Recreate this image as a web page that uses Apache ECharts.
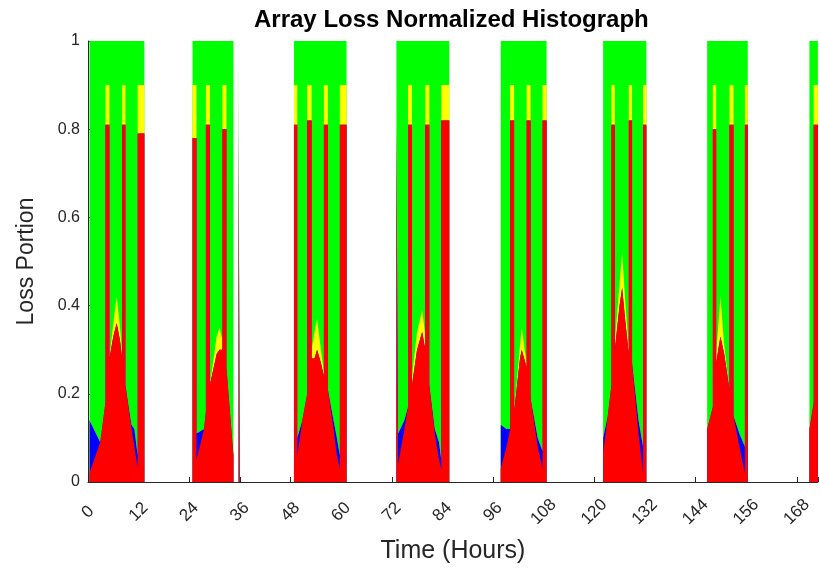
<!DOCTYPE html>
<html>
<head>
<meta charset="utf-8">
<script src="https://cdn.jsdelivr.net/npm/echarts@6/dist/echarts.min.js"></script>
<style>
  html, body { margin: 0; padding: 0; background: #fff; }
  #chart { width: 820px; height: 573px; }
</style>
</head>
<body>
<div id="chart"></div>
<script>
// breakpoints in hours, one line per day; null = night gap
const hours = [
  0.35, 2.9, 4.14, 4.14, 5.08, 5.08, 6.0, 6.8, 7.6, 8.09, 8.09, 8.87, 8.87, 10.3, 11.0, 11.77, 11.77, 13.36, 19,
  24.78, 25.72, 25.72, 27.5, 27.94, 27.94, 28.89, 28.89, 30.5, 31.2, 31.87, 31.87, 32.81, 32.81, 34.47, 35.2, 35.7, 35.95, 42,
  48.82, 49.6, 49.6, 50.8, 51.96, 51.96, 53.0, 53.0, 53.7, 54.3, 55.2, 55.91, 55.91, 56.86, 56.86, 58.2, 59.0, 59.69, 59.69, 61.28, 67,
  73.1, 73.5, 73.5, 75.0, 75.85, 75.85, 76.8, 76.8, 78.0, 79.2, 79.95, 79.95, 80.9, 80.9, 82.2, 83.2, 83.74, 83.74, 85.63, 91,
  97.83, 99.2, 100.05, 100.05, 101.0, 101.0, 102.4, 102.8, 103.97, 103.97, 104.9, 104.9, 106.6, 107.75, 107.75, 108.7, 115,
  122.1, 123.2, 124.07, 124.07, 124.87, 124.87, 126.0, 126.6, 127.4, 128.18, 128.18, 128.96, 128.96, 130.5, 131.56, 131.56, 132.34, 139,
  146.76, 148.1, 148.1, 148.9, 148.9, 149.9, 150.8, 152.05, 152.05, 153.0, 153.0, 154.4, 155.7, 155.7, 156.38, 163,
  171.0, 172.0, 172.0, 173.0
];

const red = [
  .02, .09, .18, .81, .81, .28, .33, .36, .32, .28, .81, .81, .22, .12, .08, .03, .79, .79, null,
  .78, .78, .05, .12, .16, .81, .81, .22, .29, .30, .30, .80, .80, .26, .06, null, .80, .80, null,
  .81, .81, .06, .14, .20, .82, .82, .28, .28, .30, .27, .24, .81, .81, .21, .12, .06, .03, .81, .81, null,
  .81, .81, .04, .12, .17, .81, .81, .22, .30, .34, .30, .81, .81, .22, .11, .05, .03, .82, .82, null,
  .03, .08, .12, .82, .82, .16, .28, .30, .26, .82, .82, .19, .08, .03, .82, .82, null,
  .065, .15, .22, .81, .81, .30, .40, .44, .36, .29, .82, .82, .27, .11, .02, .81, .81, null,
  .12, .17, .80, .80, .27, .33, .29, .21, .81, .81, .15, .08, .02, .81, .81, null,
  .12, .18, .81, .81
];

const blue = [
  .12, 0, 0, 0, 0, 0, 0, 0, 0, 0, 0, 0, 0, .01, .04, .03, 0, 0, null,
  0, 0, .06, 0, 0, 0, 0, 0, 0, 0, 0, 0, 0, 0, 0, null, 0, 0, null,
  0, 0, .04, 0, 0, 0, 0, 0, 0, 0, 0, 0, 0, 0, 0, .02, .04, .03, 0, 0, null,
  0, 0, .07, .02, 0, 0, 0, 0, 0, 0, 0, 0, 0, 0, .01, .04, .02, 0, 0, null,
  .10, .04, 0, 0, 0, 0, 0, 0, 0, 0, 0, 0, .02, .04, 0, 0, null,
  .035, 0, 0, 0, 0, 0, 0, 0, 0, 0, 0, 0, 0, .03, .06, 0, 0, null,
  0, 0, 0, 0, 0, 0, 0, 0, 0, 0, 0, .03, .06, 0, 0, null,
  0, 0, 0, 0
];

const yellow = [
  0, 0, 0, .09, .09, 0, .03, .06, .03, .01, .09, .09, 0, 0, 0, 0, .11, .11, null,
  .12, .12, 0, 0, 0, .09, .09, 0, .04, .05, .02, .10, .10, 0, 0, null, .10, .10, null,
  .09, .09, 0, 0, 0, .08, .08, .02, .06, .07, .03, .01, .09, .09, 0, 0, 0, 0, .09, .09, null,
  .09, .09, 0, 0, 0, .09, .09, .02, .04, .05, .03, .09, .09, 0, 0, 0, 0, .08, .08, null,
  0, 0, 0, .08, .08, 0, .03, .05, .01, .08, .08, 0, 0, 0, .08, .08, null,
  0, 0, 0, .09, .09, .02, .05, .08, .04, .01, .08, .08, 0, 0, 0, .09, .09, null,
  0, 0, .10, .10, .02, .09, .02, 0, .09, .09, 0, 0, 0, .09, .09, null,
  0, 0, .09, .09
];

const green = [
  .86, .91, .82, .10, .10, .72, .64, .58, .65, .71, .10, .10, .78, .87, .88, .94, .10, .10, null,
  .10, .10, .89, .88, .84, .10, .10, .78, .67, .65, .68, .10, .10, .74, .94, null, .10, .10, null,
  .10, .10, .90, .86, .80, .10, .10, .70, .66, .63, .70, .75, .10, .10, .79, .86, .90, .94, .10, .10, null,
  .10, .10, .89, .86, .83, .10, .10, .76, .66, .61, .67, .10, .10, .78, .88, .91, .95, .10, .10, null,
  .87, .88, .88, .10, .10, .84, .69, .65, .73, .10, .10, .81, .90, .93, .10, .10, null,
  .90, .85, .78, .10, .10, .68, .55, .48, .60, .70, .10, .10, .73, .86, .92, .10, .10, null,
  .88, .83, .10, .10, .71, .58, .69, .79, .10, .10, .85, .89, .92, .10, .10, null,
  .88, .82, .10, .10
];

const xTicks = [0, 12, 24, 36, 48, 60, 72, 84, 96, 108, 120, 132, 144, 156, 168];

// bottom to top
const layers = [
  { name: "red", color: "#ff0000", values: red },
  { name: "blue", color: "#0000ff", values: blue },
  { name: "yellow", color: "#ffff00", values: yellow },
  { name: "green", color: "#00ff00", values: green },
];

// running sums = top edge of each layer (what a stack does), nulls kept as gaps
let running = hours.map(() => 0);
layers.forEach((l) => {
  running = running.map((s, i) => (l.values[i] === null ? null : s + l.values[i]));
  l.top = running.slice();
});

const axisColor = "#262626";
const font = "'Liberation Sans', Arial, Helvetica, sans-serif";

const chart = echarts.init(document.getElementById("chart"), null, { renderer: "canvas" });

chart.setOption({
  animation: false,
  backgroundColor: "#fff",
  title: {
    text: "Array Loss Normalized Histograph",
    left: 249,
    top: 3,
    textStyle: { fontFamily: font, fontSize: 24, fontWeight: "bold", color: "#000" },
  },
  grid: { left: 88, right: 0, top: 41, bottom: 91 },
  xAxis: {
    type: "value",
    min: 0,
    max: 173,
    interval: 12,
    name: "Time (Hours)",
    nameLocation: "middle",
    nameGap: 57,
    nameTextStyle: { fontFamily: font, fontSize: 25, color: axisColor },
    axisLine: { show: true, lineStyle: { color: axisColor, width: 1 } },
    axisTick: { show: true, inside: true, length: 5, lineStyle: { color: axisColor } },
    axisLabel: {
      rotate: 45,
      margin: 30,
      align: "center",
      verticalAlign: "middle",
      fontFamily: font,
      fontSize: 17,
      color: axisColor,
      formatter: (v) => (xTicks.includes(v) ? String(v) : ""),
    },
    splitLine: { show: false },
  },
  yAxis: {
    type: "value",
    min: 0,
    max: 1,
    interval: 0.2,
    name: "Loss Portion",
    nameLocation: "middle",
    nameGap: 50,
    nameTextStyle: { fontFamily: font, fontSize: 23, color: axisColor },
    axisLine: { show: true, lineStyle: { color: axisColor, width: 1 } },
    axisTick: { show: true, inside: true, length: 5, lineStyle: { color: axisColor } },
    axisLabel: { margin: 8, fontFamily: font, fontSize: 16, color: axisColor },
    splitLine: { show: false },
  },
  // paint the tallest layer first so each lower layer covers it
  series: layers.slice().reverse().map((l) => ({
    name: l.name,
    type: "line",
    data: hours.map((h, i) => [h, l.top[i]]),
    symbol: "none",
    showSymbol: false,
    connectNulls: false,
    silent: true,
    lineStyle: { width: 0, color: l.color },
    itemStyle: { color: l.color },
    areaStyle: { color: l.color, opacity: 1, origin: "start" },
  })),
});
</script>
</body>
</html>
